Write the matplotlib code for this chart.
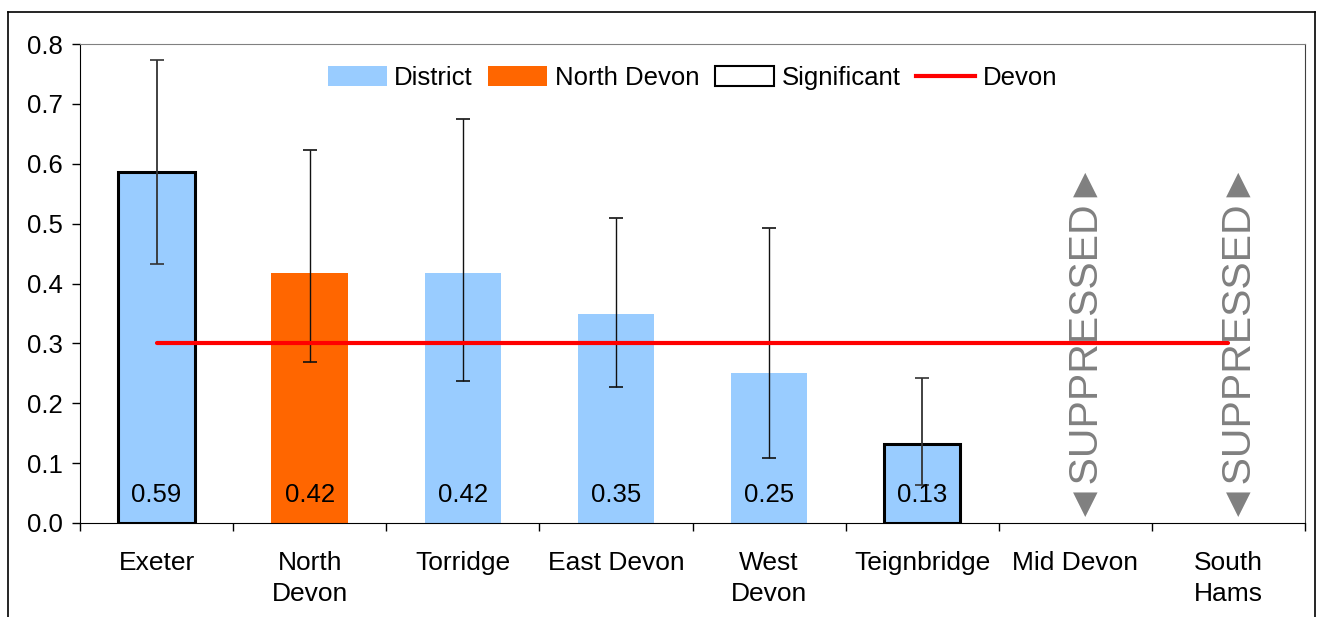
import matplotlib
matplotlib.use("Agg")
import matplotlib.pyplot as plt
from matplotlib.patches import Patch
from matplotlib.lines import Line2D
import numpy as np

plt.rcParams['font.family'] = ['Liberation Sans', 'DejaVu Sans']

categories = ["Exeter", "North\nDevon", "Torridge", "East Devon", "West\nDevon",
              "Teignbridge", "Mid Devon", "South\nHams"]
values = [0.587, 0.418, 0.417, 0.349, 0.251, 0.132, None, None]
upper = [0.773, 0.623, 0.674, 0.509, 0.492, 0.242, None, None]
lower = [0.432, 0.269, 0.237, 0.227, 0.108, 0.063, None, None]
value_labels = ["0.59", "0.42", "0.42", "0.35", "0.25", "0.13", None, None]
kind = ["District", "North Devon", "District", "District", "District", "District", None, None]
significant = [True, False, False, False, False, True, False, False]
devon_value = 0.3
suppressed = [False, False, False, False, False, False, True, True]

BLUE = "#99CCFF"
ORANGE = "#FF6600"
FS = 18.5

fig = plt.figure(figsize=(13.21, 6.17), dpi=100)
ax = fig.add_axes([80/1321, 1-523/617, (1305-80)/1321, (523-44)/617])

x = np.arange(len(categories))
for i, v in enumerate(values):
    if v is None:
        continue
    color = ORANGE if kind[i] == "North Devon" else BLUE
    ax.bar(i, v, width=0.5, color=color,
           edgecolor="black" if significant[i] else "none",
           linewidth=2.2 if significant[i] else 0, zorder=2)
    ax.errorbar(i, v, yerr=[[v - lower[i]], [upper[i] - v]], fmt="none",
                ecolor="#333333" if significant[i] else "#111111",
                elinewidth=1.3 if significant[i] else 1, capsize=5, capthick=1.2, zorder=3)
    ax.text(i, 0.046, value_labels[i], ha="center", va="center", fontsize=FS, zorder=5)

ax.plot([x[0], x[-1]], [devon_value, devon_value], color="#FF0000", lw=3, zorder=4,
        solid_capstyle="round")

for i, s in enumerate(suppressed):
    if s:
        ax.text(i + 0.02, 0.314, "\u25C4SUPPRESSED\u25BA", rotation=90, ha="center", va="center",
                fontsize=29.5, color="#808080", zorder=5)

ax.set_xlim(-0.5, len(categories) - 0.5)
ax.set_ylim(0, 0.8)
ax.set_yticks(np.arange(0, 0.81, 0.1))
ax.set_yticklabels([f"{t:.1f}" for t in np.arange(0, 0.81, 0.1)], fontsize=FS)
ax.tick_params(axis="y", direction="out", length=5.5, width=1, pad=7)
ax.set_xticks(x)
ax.set_xticklabels(categories, fontsize=19, linespacing=1.4)
ax.tick_params(axis="x", which="major", length=0, pad=20)
ax.set_xticks(np.arange(-0.5, len(categories)), minor=True)
ax.tick_params(axis="x", which="minor", direction="out", length=6, width=1)

ax.spines["top"].set_color("#808080")
ax.spines["right"].set_color("#404040")
ax.spines["left"].set_color("black")
ax.spines["bottom"].set_color("black")

handles = [Patch(facecolor=BLUE, edgecolor="none"),
           Patch(facecolor=ORANGE, edgecolor="none"),
           Patch(facecolor="white", edgecolor="black", linewidth=1.5),
           Line2D([0], [0], color="#FF0000", lw=3)]
labels = ["District", "North Devon", "Significant", "Devon"]
ax.legend(handles, labels, loc="center", bbox_to_anchor=(0.5, 0.929), ncol=4,
          frameon=False, fontsize=FS, handlelength=2.3, handleheight=0.8,
          handletextpad=0.3, columnspacing=0.6)

# outer frame
W, H = 1321, 617
fx = lambda px: px / W
fy = lambda py: 1 - py / H
fig.add_artist(Line2D([fx(8), fx(8)], [fy(12), 0], color="black", lw=1.2))
fig.add_artist(Line2D([fx(8), fx(1315)], [fy(12), fy(12)], color="black", lw=1.2))
fig.add_artist(Line2D([fx(1315), fx(1315)], [fy(12), 0], color="black", lw=1.2))

fig.savefig("out.png", dpi=100)
